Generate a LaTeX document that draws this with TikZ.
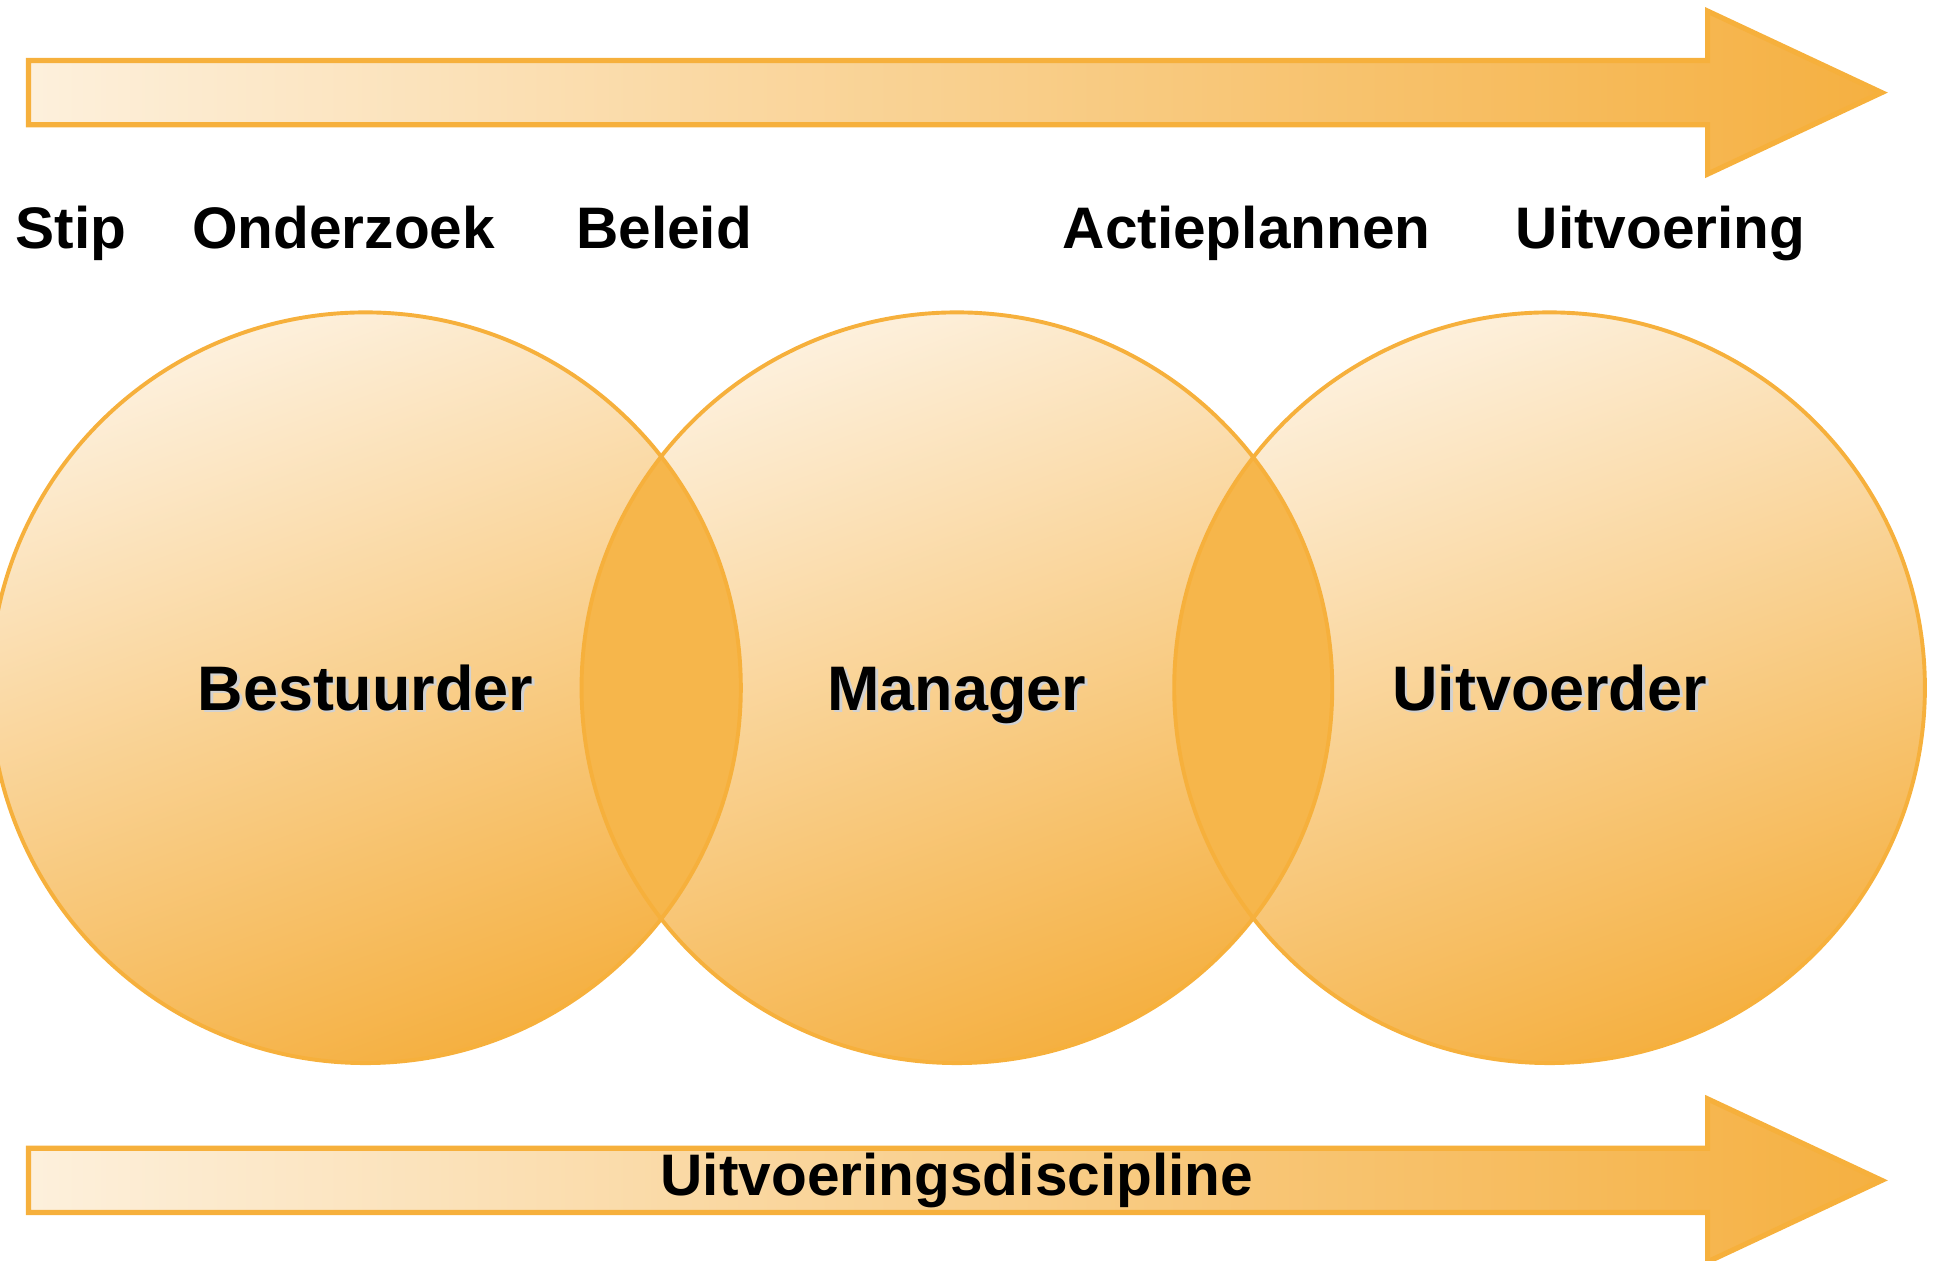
\documentclass[tikz,border=0pt]{standalone}
\usepackage{fontspec}
\setmainfont{Liberation Sans}
\usepackage{tikz}
\usetikzlibrary{positioning,calc,shapes}

\definecolor{lightcream}{HTML}{FDF0DC}
\definecolor{deeporange}{HTML}{F5B041}
\definecolor{rimorange}{HTML}{F6B03C}
\definecolor{lensorange}{HTML}{F6B64B}

\newcommand{\shadowed}[1]{\makebox[0pt][l]{\kern0.6pt\raisebox{-0.6pt}{\color{black!18}#1}}#1}

\begin{document}
\begin{tikzpicture}[
    disc/.style={circle, minimum size=6.08cm, inner sep=0pt,
      top color=lightcream, bottom color=deeporange, shading angle=20},
    rim/.style={draw=rimorange, line width=0.9pt},
    band/.style={left color=lightcream, right color=deeporange, draw=rimorange, line width=1.2pt},
    stage/.style={anchor=base west, inner sep=0pt, font=\bfseries\fontsize{13.5}{16}\selectfont},
    role/.style={inner sep=0pt, text height=10.4pt, text depth=0pt, font=\bfseries\fontsize{14.5}{17}\selectfont}]
    \useasboundingbox (0,0) rectangle (15.68,10.21);

    % arrows
    \foreach \yc in {9.46,0.65}
      \shade[band] (0.23,\yc-0.26) -- (0.23,\yc+0.26) -- (13.83,\yc+0.26) -- (13.83,\yc+0.66)
        -- (15.24,\yc) -- (13.83,\yc-0.66) -- (13.83,\yc-0.26) -- cycle;

    % stages
    \node[stage] (stip) at (0.12,8.20) {Stip};
    \node[stage] (onderzoek) at (1.55,8.20) {Onderzoek};
    \node[stage] (beleid) at (4.66,8.20) {Beleid};
    \node[stage] (actie) at (8.60,8.20) {Actieplannen};
    \node[stage] (uitvoering) at (12.27,8.20) {Uitvoering};

    % circles
    \foreach \name/\x in {best/2.96, man/7.75, uitv/12.55}
      \node[disc] (\name) at (\x,4.64) {};

    % overlaps
    \begin{scope}
      \clip (best.center) circle (3.04);
      \fill[lensorange] (man.center) circle (3.04);
    \end{scope}
    \begin{scope}
      \clip (man.center) circle (3.04);
      \fill[lensorange] (uitv.center) circle (3.04);
    \end{scope}

    \foreach \name in {best,man,uitv}
      \draw[rim] (\name.center) circle (3.04);

    \node[role] (bestuurder) at (best.center) {\shadowed{Bestuurder}};
    \node[role] (manager) at (man.center) {\shadowed{Manager}};
    \node[role] (uitvoerder) at (uitv.center) {\shadowed{Uitvoerder}};

    \node[stage, anchor=base] (discipline) at (7.75,0.53) {Uitvoeringsdiscipline};
\end{tikzpicture}
\end{document}
